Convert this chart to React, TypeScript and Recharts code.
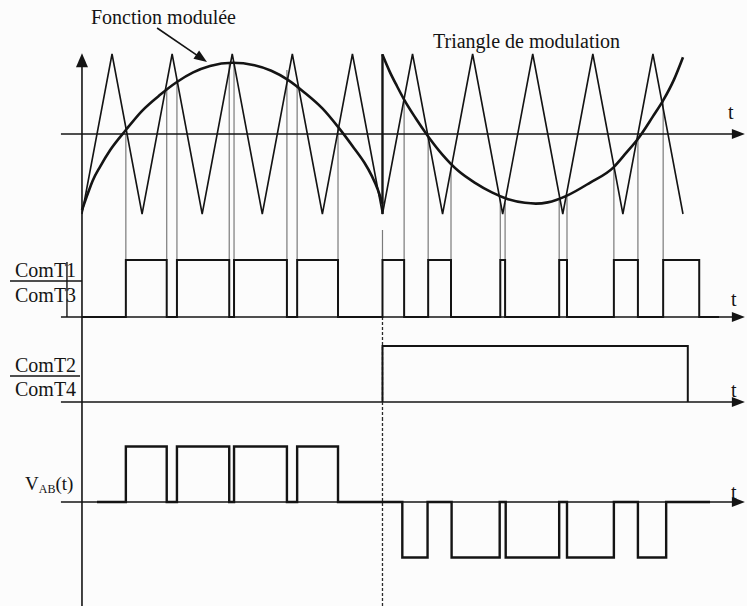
import React from 'react';
import { LineChart, Line, XAxis, YAxis, ReferenceLine } from 'recharts';

// time is counted in carrier periods (one triangle = 1), levels are per panel
const carrierTime = [0, 0.5, 1, 1.5, 2, 2.5, 3, 3.5, 4, 4.5, 5, 5.5, 6, 6.5, 7, 7.5, 8, 8.5, 9, 9.5, 10];
const carrierLevel = [-1, 1, -1, 1, -1, 1, -1, 1, -1, 1, -1, 1, -1, 1, -1, 1, -1, 1, -1, 1, -1];

// modulated function, first half (arch) and second half (bowl)
const modTimeA = [0, 0.08, 0.18, 0.3, 0.47, 0.73, 1.0, 1.3, 1.58, 1.85, 2.13, 2.5, 2.87, 3.15, 3.42, 3.7, 4.0, 4.27, 4.53, 4.7, 4.82, 4.92, 5.0];
const modLevelA = [-0.95, -0.78, -0.58, -0.41, -0.2, 0.05, 0.29, 0.49, 0.65, 0.77, 0.85, 0.89, 0.86, 0.79, 0.68, 0.52, 0.32, 0.08, -0.18, -0.36, -0.52, -0.69, -0.87];
const modTimeB = [5.0, 5.12, 5.24, 5.36, 5.55, 5.76, 6.0, 6.26, 6.54, 6.82, 7.09, 7.37, 7.55, 7.75, 8.07, 8.45, 8.84, 9.05, 9.28, 9.5, 9.67, 9.85, 10.0];
const modLevelB = [0.99, 0.78, 0.6, 0.43, 0.2, -0.03, -0.26, -0.46, -0.61, -0.73, -0.815, -0.86, -0.87, -0.855, -0.77, -0.61, -0.42, -0.24, -0.03, 0.22, 0.42, 0.68, 0.96];

// crossing instants and the level where the thin guide starts
const guideTime = [0.73, 1.41, 1.58, 2.45, 2.53, 3.41, 3.58, 4.26, 5.36, 5.76, 6.14, 6.96, 7.04, 7.94, 8.07, 8.85, 9.25, 9.67];
const guideLevel = [0.0, 0.55, 0.68, 0.89, 0.89, 0.8, 0.59, 0.08, 0.42, -0.05, -0.42, -0.82, -0.86, -0.82, -0.78, -0.42, -0.05, 0.42];

const comT13Time = [0, 0.73, 1.41, 1.58, 2.45, 2.53, 3.41, 3.58, 4.26, 5.0, 5.36, 5.76, 6.14, 6.96, 7.04, 7.94, 8.07, 8.85, 9.25, 9.67, 10.27, 10.6];
const comT13Level = [0, 1, 0, 1, 0, 1, 0, 1, 0, 1, 0, 1, 0, 1, 0, 1, 0, 1, 0, 1, 0, 0];

const comT24Time = [5.0, 5.0, 10.08];
const comT24Level = [0, 1, 0];

const vabTime = [0.25, 0.73, 1.41, 1.58, 2.45, 2.53, 3.41, 3.58, 4.26, 5.33, 5.75, 6.15, 6.95, 7.05, 7.94, 8.07, 8.85, 9.25, 9.72, 10.45];
const vabLevel = [0, 1, 0, 1, 0, 1, 0, 1, 0, -1, 0, -1, 0, -1, 0, -1, 0, -1, 0, 0];

const SWITCH_T = 5.0;

const W = 747;
const T_DOMAIN: [number, number] = [-1.364, 11.065];
const INK = '#141414';
const GUIDE = '#7a7a7a';
const SERIF = '"Liberation Serif", "Times New Roman", Times, serif';

const rows = (t: number[], v: number[]) => t.map((x, i) => ({ t: x, v: v[i] }));

const arrowShape = (head: number, half: number, width: number) => (p: any) => {
  const { x1, y1, x2, y2 } = p;
  const dx = x2 - x1;
  const dy = y2 - y1;
  const len = Math.hypot(dx, dy) || 1;
  const ux = dx / len;
  const uy = dy / len;
  const bx = x2 - ux * head;
  const by = y2 - uy * head;
  const pts = `${x2},${y2} ${bx - uy * half},${by + ux * half} ${bx + uy * half},${by - ux * half}`;
  return (
    <g>
      <line x1={x1} y1={y1} x2={bx + ux * 2} y2={by + uy * 2} stroke={INK} strokeWidth={width} />
      <polygon points={pts} fill={INK} />
    </g>
  );
};

const Panel = ({ height, yDomain, children }: { height: number; yDomain: [number, number]; children: React.ReactNode }) => (
  <LineChart width={W} height={height} margin={{ top: 0, right: 0, bottom: 0, left: 0 }}>
    <XAxis type="number" dataKey="t" domain={T_DOMAIN} hide allowDataOverflow />
    <YAxis type="number" domain={yDomain} hide allowDataOverflow />
    {children}
  </LineChart>
);

const seg = (x1: number, y1: number, x2: number, y2: number) => [{ x: x1, y: y1 }, { x: x2, y: y2 }];

const tAxis = (top: number, bottom: number) => [
  <ReferenceLine key="ax" segment={seg(-0.35, 0, 11.03, 0)} ifOverflow="visible" shape={arrowShape(13, 5, 1.6)} />,
  <ReferenceLine key="ay" segment={seg(0, bottom, 0, top)} ifOverflow="visible" stroke={INK} strokeWidth={1.6} />,
];

const dashed = (from: number, to: number) => (
  <ReferenceLine segment={seg(SWITCH_T, from, SWITCH_T, to)} ifOverflow="visible" stroke="#2a2a2a" strokeWidth={1.3} strokeDasharray="3 2" />
);

const Txt = ({ x, y, size = 20, children }: { x: number; y: number; size?: number; children: React.ReactNode }) => (
  <text x={x} y={y} fontSize={size} fontFamily={SERIF} fill={INK}>
    {children}
  </text>
);

export default function App() {
  const yA: [number, number] = [-1.2, 1.675];
  const yB: [number, number] = [-0.4035, 1.5263];
  const yC: [number, number] = [-0.3214, 1.1071];
  const yD: [number, number] = [-1.874, 1.477];

  return (
    <div style={{ position: 'absolute', left: 0, top: 0, width: W, height: 606, background: '#fcfcfc' }}>
      <Panel height={230} yDomain={yA}>
        {guideTime.map((t, i) => (
          <ReferenceLine key={`g${i}`} segment={seg(t, guideLevel[i], t, -1.2)} ifOverflow="visible" stroke={GUIDE} strokeWidth={1.2} />
        ))}
        <ReferenceLine segment={seg(-0.35, 0, 11.03, 0)} ifOverflow="visible" shape={arrowShape(13, 5, 1.6)} />
        <ReferenceLine segment={seg(0, -1.2, 0, 1.01)} ifOverflow="visible" shape={arrowShape(14, 6, 1.6)} />
        <Line data={rows(carrierTime, carrierLevel)} dataKey="v" type="linear" stroke={INK} strokeWidth={1.6} dot={false} activeDot={false} isAnimationActive={false} />
        <Line data={rows(modTimeA, modLevelA)} dataKey="v" type="monotone" stroke={INK} strokeWidth={2.6} dot={false} activeDot={false} isAnimationActive={false} />
        <Line data={rows(modTimeB, modLevelB)} dataKey="v" type="monotone" stroke={INK} strokeWidth={2.6} dot={false} activeDot={false} isAnimationActive={false} />
        <ReferenceLine segment={seg(SWITCH_T, -1, SWITCH_T, 1.0)} ifOverflow="visible" stroke={INK} strokeWidth={2.4} />
        <ReferenceLine segment={seg(1.25, 1.325, 2.08, 0.9)} ifOverflow="visible" shape={arrowShape(13, 5, 1.6)} />
      </Panel>

      <Panel height={110} yDomain={yB}>
        {[...guideTime, SWITCH_T].map((t, i) => (
          <ReferenceLine key={`h${i}`} segment={seg(t, 1, t, 1.5263)} ifOverflow="visible" stroke={GUIDE} strokeWidth={1.2} />
        ))}
        {tAxis(1.5263, -0.4035)}
        <ReferenceLine segment={seg(-0.25, 0, -0.25, 0.965)} ifOverflow="visible" stroke={INK} strokeWidth={1.4} />
        {dashed(0, -0.4035)}
        <Line data={rows(comT13Time, comT13Level)} dataKey="v" type="stepAfter" stroke={INK} strokeWidth={2} dot={false} activeDot={false} isAnimationActive={false} />
      </Panel>

      <Panel height={80} yDomain={yC}>
        {tAxis(1.1071, -0.3214)}
        {dashed(-0.3214, 1.1071)}
        <Line data={rows(comT24Time, comT24Level)} dataKey="v" type="stepAfter" stroke={INK} strokeWidth={2} dot={false} activeDot={false} isAnimationActive={false} />
      </Panel>

      <Panel height={186} yDomain={yD}>
        {tAxis(1.477, -1.874)}
        {dashed(-1.874, 1.477)}
        <Line data={rows(vabTime, vabLevel)} dataKey="v" type="stepAfter" stroke={INK} strokeWidth={2.4} dot={false} activeDot={false} isAnimationActive={false} />
      </Panel>

      <svg width={W} height={606} style={{ position: 'absolute', left: 0, top: 0, pointerEvents: 'none' }}>
        <Txt x={91} y={24}>Fonction modulée</Txt>
        <Txt x={433} y={48}>Triangle de modulation</Txt>
        <Txt x={728} y={119}>t</Txt>
        <Txt x={15} y={277}>ComT1</Txt>
        <Txt x={15} y={302}>ComT3</Txt>
        <Txt x={731} y={306}>t</Txt>
        <Txt x={15} y={372}>ComT2</Txt>
        <Txt x={15} y={396}>ComT4</Txt>
        <Txt x={731} y={397}>t</Txt>
        <text x={25} y={490} fontSize={19} fontFamily={SERIF} fill={INK}>
          V<tspan fontSize={12} dy={3}>AB</tspan>
          <tspan dy={-3}>(t)</tspan>
        </text>
        <Txt x={731} y={499}>t</Txt>
        <line x1={10} y1={281} x2={82} y2={281} stroke={INK} strokeWidth={1.5} />
        <line x1={10} y1={376} x2={80} y2={376} stroke={INK} strokeWidth={1.5} />
      </svg>
    </div>
  );
}
